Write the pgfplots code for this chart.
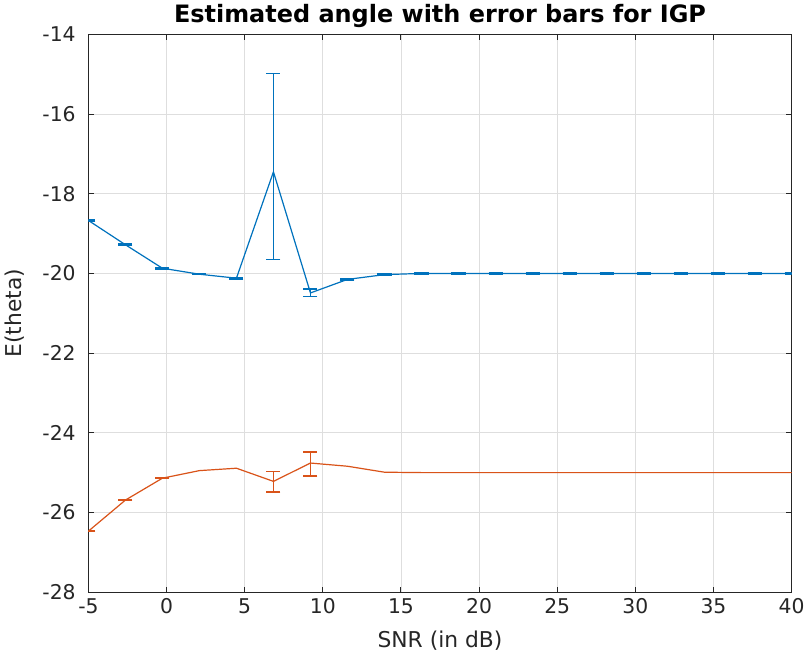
\documentclass[border=0pt]{standalone}
\usepackage{pgfplots}
\pgfplotsset{compat=1.18}
\usepackage{fontspec}
\setmainfont{DejaVu Sans}
\definecolor{mblue}{rgb}{0,0.447,0.741}
\definecolor{morange}{rgb}{0.85,0.325,0.098}
\definecolor{mgrid}{rgb}{0.87,0.87,0.87}
\definecolor{maxis}{rgb}{0.15,0.15,0.15}
\begin{document}
\begin{tikzpicture}
\begin{axis}[
  scale only axis,
  width=525.8pt, height=417pt,
  xmin=-5, xmax=40, ymin=-28, ymax=-14,
  xtick={-5,0,...,40}, ytick={-28,-26,...,-14},
  grid=major,
  major grid style={color=mgrid, line width=0.6pt},
  axis line style={color=maxis, line width=0.8pt},
  major tick style={color=maxis, line width=0.8pt},
  major tick length=4pt,
  tick align=inside,
  /pgf/number format/assume math mode=true,
  ticklabel style={font=\fontsize{15.2}{18}\selectfont, color=maxis},
  xticklabel style={yshift=-1pt},
  yticklabel style={xshift=-6pt},
  label style={font=\fontsize{16.3}{19}\selectfont, color=maxis},
  xlabel={SNR (in dB)},
  xlabel style={yshift=-6pt},
  ylabel={E(theta)},
  ylabel style={yshift=7pt},
  title={Estimated angle with error bars for IGP},
  every axis title shift=0pt,
  title style={font=\bfseries\fontsize{17.9}{21}\selectfont, anchor=base, at={(0.5,1)}, yshift=8.8pt},
]
\addplot[color=mblue, line width=0.9pt, mark=none,
  error bars/.cd, y dir=both, y explicit,
  error bar style={color=mblue, line width=1.2pt},
  error mark options={rotate=90, mark size=5.25pt, color=mblue, line width=1.2pt}]
coordinates {
(-5,-18.67) +- (0,0.02)
(-2.6316,-19.28) +- (0,0.02)
(-0.2632,-19.87) +- (0,0.02)
(2.1053,-20.02) +- (0,0.01)
(4.4737,-20.12) +- (0,0.02)
(6.8421,-17.45) += (0,2.47) -= (0,2.20)
(9.2105,-20.49) += (0,0.10) -= (0,0.09)
(11.5789,-20.15) +- (0,0.01)
(13.9474,-20.03) +- (0,0.01)
(16.3158,-20.00) +- (0,0.02)
(18.6842,-20.00) +- (0,0.02)
(21.0526,-20.00) +- (0,0.02)
(23.4211,-20.00) +- (0,0.02)
(25.7895,-20.00) +- (0,0.02)
(28.1579,-20.00) +- (0,0.02)
(30.5263,-20.00) +- (0,0.02)
(32.8947,-20.00) +- (0,0.02)
(35.2632,-20.00) +- (0,0.02)
(37.6316,-20.00) +- (0,0.02)
(40,-20.00) +- (0,0.02)
};
\addplot[color=morange, line width=0.9pt, mark=none]
coordinates {
(-5,-26.47)
(-2.6316,-25.69)
(-0.2632,-25.14)
(2.1053,-24.95)
(4.4737,-24.89)
(6.8421,-25.22)
(9.2105,-24.76)
(11.5789,-24.84)
(13.9474,-24.99)
(16.3158,-25.00)
(18.6842,-25.00)
(21.0526,-25.00)
(23.4211,-25.00)
(25.7895,-25.00)
(28.1579,-25.00)
(30.5263,-25.00)
(32.8947,-25.00)
(35.2632,-25.00)
(37.6316,-25.00)
(40,-25.00)
};
\addplot[color=morange, draw=none, mark=none,
  error bars/.cd, y dir=both, y explicit,
  error bar style={color=morange, line width=1.2pt},
  error mark options={rotate=90, mark size=5.25pt, color=morange, line width=1.2pt}]
coordinates {
(-5,-26.47) +- (0,0.01)
(-2.6316,-25.69) +- (0,0.01)
(-0.2632,-25.14) +- (0,0.01)
(6.8421,-25.22) += (0,0.25) -= (0,0.27)
(9.2105,-24.76) += (0,0.28) -= (0,0.33)
};
\end{axis}
\end{tikzpicture}
\end{document}
